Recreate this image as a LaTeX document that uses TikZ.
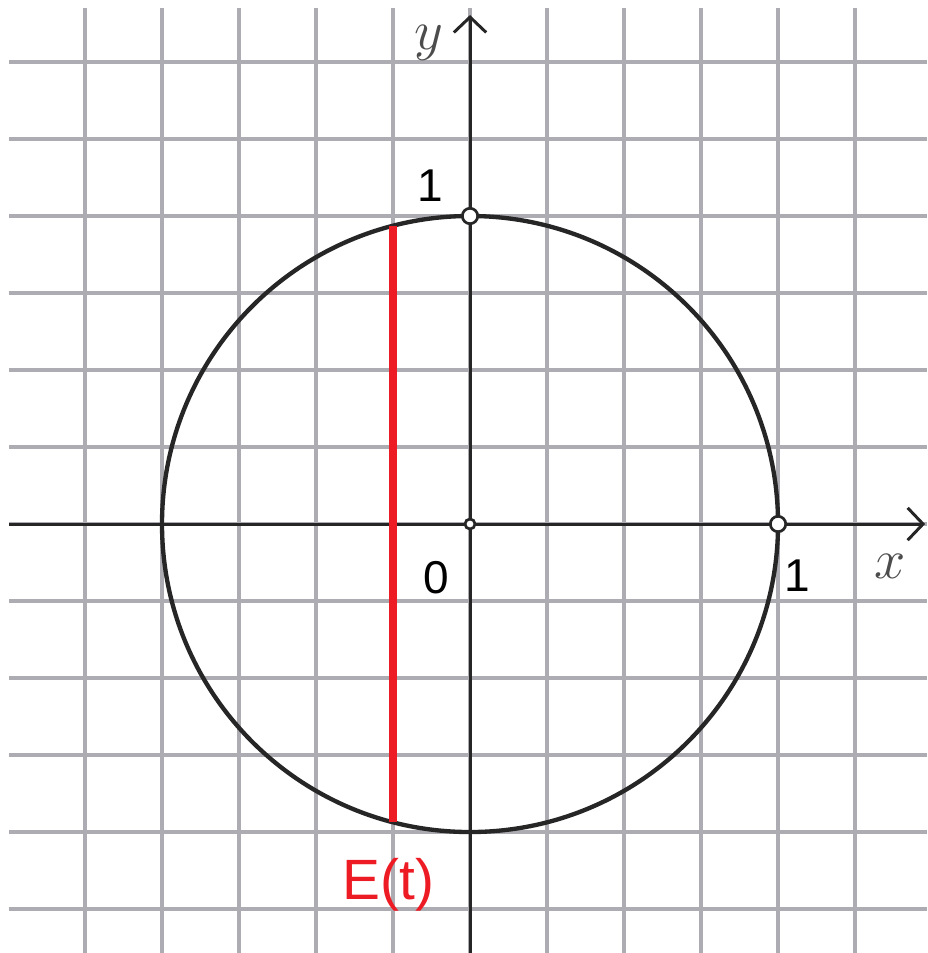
\documentclass[tikz,border=0pt]{standalone}
\usepackage{amsmath, amssymb}
\usepackage{fontspec}
\setsansfont{Liberation Sans}
\usepackage{tikz}
\usetikzlibrary{arrows.meta}
\definecolor{gridgray}{RGB}{172,172,178}
\definecolor{chordred}{RGB}{237,28,36}
\tikzset{
  gridline/.style={gridgray, line width=1.3pt},
  axis/.style={black!85, line width=1.1pt, -{Straight Barb[length=2mm, width=4.2mm, line width=1.1pt]}},
  openpt/.style={circle, draw=black!85, fill=white, line width=1pt, inner sep=0pt, minimum size=#1},
  lbl/.style={font=\sffamily\fontsize{17}{20}\selectfont},
  varlbl/.style={text=black!70, font=\fontsize{20}{24}\selectfont},
}

\begin{document}
\begin{tikzpicture}
  \useasboundingbox (-6.104,-5.571) rectangle (5.935,6.805);
  % grid
  \foreach \i in {-5,...,5} \draw[gridline] (\i,-5.571) -- (\i,6.70);
  \foreach \j in {-5,...,6} \draw[gridline] (-5.99,\j) -- (5.935,\j);
  % axes
  \coordinate (O) at (0,0);
  \coordinate (xend) at (5.91,0);
  \coordinate (yend) at (0,6.61);
  \draw[axis] (-5.99,0) -- (xend);
  \draw[axis] (0,-5.571) -- (yend);
  \draw[black!85, line width=1.6pt] (O) circle (4);
  \draw[chordred, line width=3.3pt] (-1,{sqrt(15)}) -- (-1,{-sqrt(15)});
  \node[openpt=0.2cm] (top) at (0,4) {};
  \node[openpt=0.2cm] (right) at (4,0) {};
  \node[openpt=0.13cm] (origin) at (O) {};
  \node[varlbl] (ylab) at (-0.53,6.25) {$y$};
  \node[varlbl] (xlab) at (5.45,-0.55) {$x$};
  \node[lbl] (one_y) at (-0.52,4.40) {1};
  \node[lbl] (zero) at (-0.44,-0.70) {0};
  \node[lbl] (one_x) at (4.25,-0.67) {1};
  \node[font=\sffamily\fontsize{21}{25}\selectfont, text=chordred] (Et) at (-1.06,-4.69) {E(t)};
\end{tikzpicture}
\end{document}
